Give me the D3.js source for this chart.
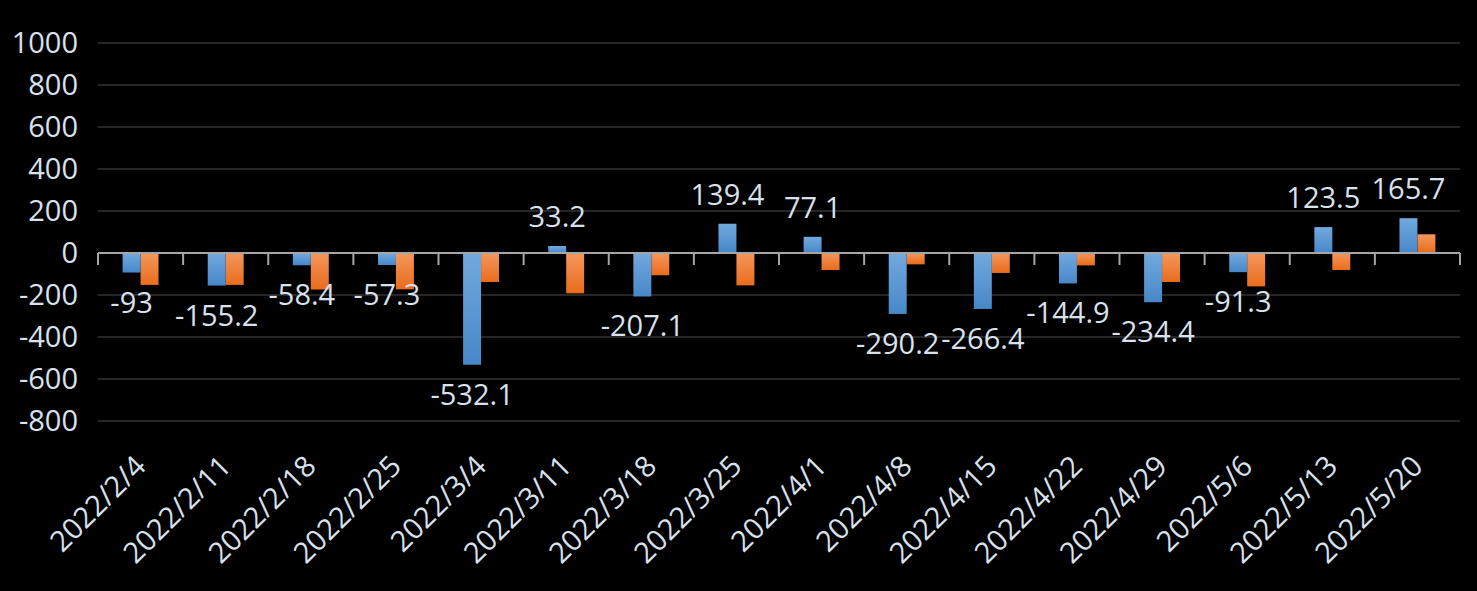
<!DOCTYPE html>
<html>
<head>
<meta charset="utf-8">
<script src="https://cdn.jsdelivr.net/npm/d3@7"></script>
<style>
  html, body { margin: 0; padding: 0; background: #000; }
  svg { display: block; }
  text { font-family: "Open Sans", "Noto Sans", sans-serif; fill: #d9e1ec; }
</style>
</head>
<body>
<svg id="chart" width="1477" height="591"></svg>
<script>
// 데이터
const categories = ["2022/2/4", "2022/2/11", "2022/2/18", "2022/2/25", "2022/3/4", "2022/3/11",
  "2022/3/18", "2022/3/25", "2022/4/1", "2022/4/8", "2022/4/15", "2022/4/22",
  "2022/4/29", "2022/5/6", "2022/5/13", "2022/5/20"];
const blueValues = [-93, -155.2, -58.4, -57.3, -532.1, 33.2, -207.1, 139.4, 77.1, -290.2, -266.4, -144.9, -234.4, -91.3, 123.5, 165.7];
const orangeValues = [-152, -152, -174, -173, -138, -192, -106, -154, -81, -54, -95, -59, -138, -159, -81, 89];
const yTicks = [-800, -600, -400, -200, 0, 200, 400, 600, 800, 1000];

const svg = d3.select("#chart");
const plotLeft = 98, plotRight = 1460, plotTop = 43, plotBottom = 421;
const fontSize = "29px";

const y = d3.scaleLinear().domain([-800, 1000]).range([plotBottom, plotTop]);
const x0 = d3.scaleBand().domain(categories).range([plotLeft, plotRight]).padding(0);
const bw = x0.bandwidth();
const x1 = d3.scaleBand().domain(["blue", "orange"]).range([bw * 0.289, bw * 0.711]);

// 그라데이션
const defs = svg.append("defs");
function grad(id, c1, c2) {
  const g = defs.append("linearGradient").attr("id", id)
    .attr("x1", 0).attr("y1", 0).attr("x2", 0).attr("y2", 1);
  g.append("stop").attr("offset", "0%").attr("stop-color", c1);
  g.append("stop").attr("offset", "100%").attr("stop-color", c2);
}
grad("gBlue", "#72a9de", "#4787c8");
grad("gOrange", "#f4975c", "#e96c1c");

// 격자선
svg.append("g").selectAll("line")
  .data(yTicks.filter(d => d !== 0))
  .join("line")
  .attr("x1", plotLeft).attr("x2", plotRight)
  .attr("y1", d => y(d)).attr("y2", d => y(d))
  .attr("stroke", "#262626").attr("stroke-width", 2);

// y축 라벨
const yAxis = svg.append("g")
  .attr("transform", `translate(${plotLeft},0)`)
  .call(d3.axisLeft(y).tickValues(yTicks).tickFormat(d => String(d)).tickSize(0).tickPadding(20));
yAxis.select(".domain").remove();
yAxis.selectAll("text")
  .attr("font-size", fontSize)
  .style("font-family", '"Open Sans", "Noto Sans", sans-serif')
  .attr("fill", "#d9e1ec");

// 막대
const groups = svg.append("g").selectAll("g")
  .data(categories.map((c, i) => ({ c, blue: blueValues[i], orange: orangeValues[i] })))
  .join("g")
  .attr("transform", d => `translate(${x0(d.c)},0)`);

groups.append("rect")
  .attr("x", x1("orange")).attr("width", x1.bandwidth())
  .attr("y", d => y(Math.max(0, d.orange)))
  .attr("height", d => Math.abs(y(d.orange) - y(0)))
  .attr("fill", "url(#gOrange)");

groups.append("rect")
  .attr("x", x1("blue")).attr("width", x1.bandwidth())
  .attr("y", d => y(Math.max(0, d.blue)))
  .attr("height", d => Math.abs(y(d.blue) - y(0)))
  .attr("fill", "url(#gBlue)");

// 0 축선과 눈금
svg.append("line")
  .attr("x1", plotLeft).attr("x2", plotRight)
  .attr("y1", y(0)).attr("y2", y(0))
  .attr("stroke", "#a6a6a6").attr("stroke-width", 2);
svg.append("g").selectAll("line")
  .data(categories.map(c => x0(c)).concat([plotRight]))
  .join("line")
  .attr("x1", d => d).attr("x2", d => d)
  .attr("y1", y(0)).attr("y2", y(0) + 12)
  .attr("stroke", "#a6a6a6").attr("stroke-width", 2);

// 데이터 라벨
groups.append("text")
  .text(d => d.blue)
  .attr("x", x1("blue") + x1.bandwidth() / 2)
  .attr("y", d => d.blue >= 0 ? y(d.blue) - 19 : y(d.blue) + 40)
  .attr("text-anchor", "middle")
  .attr("font-size", fontSize);

// x축 라벨
svg.append("g").selectAll("text")
  .data(categories)
  .join("text")
  .text(d => d)
  .attr("transform", d => `translate(${x0(d) + bw / 2 + 7},468) rotate(-45)`)
  .attr("text-anchor", "end")
  .attr("font-size", fontSize);
</script>
</body>
</html>
